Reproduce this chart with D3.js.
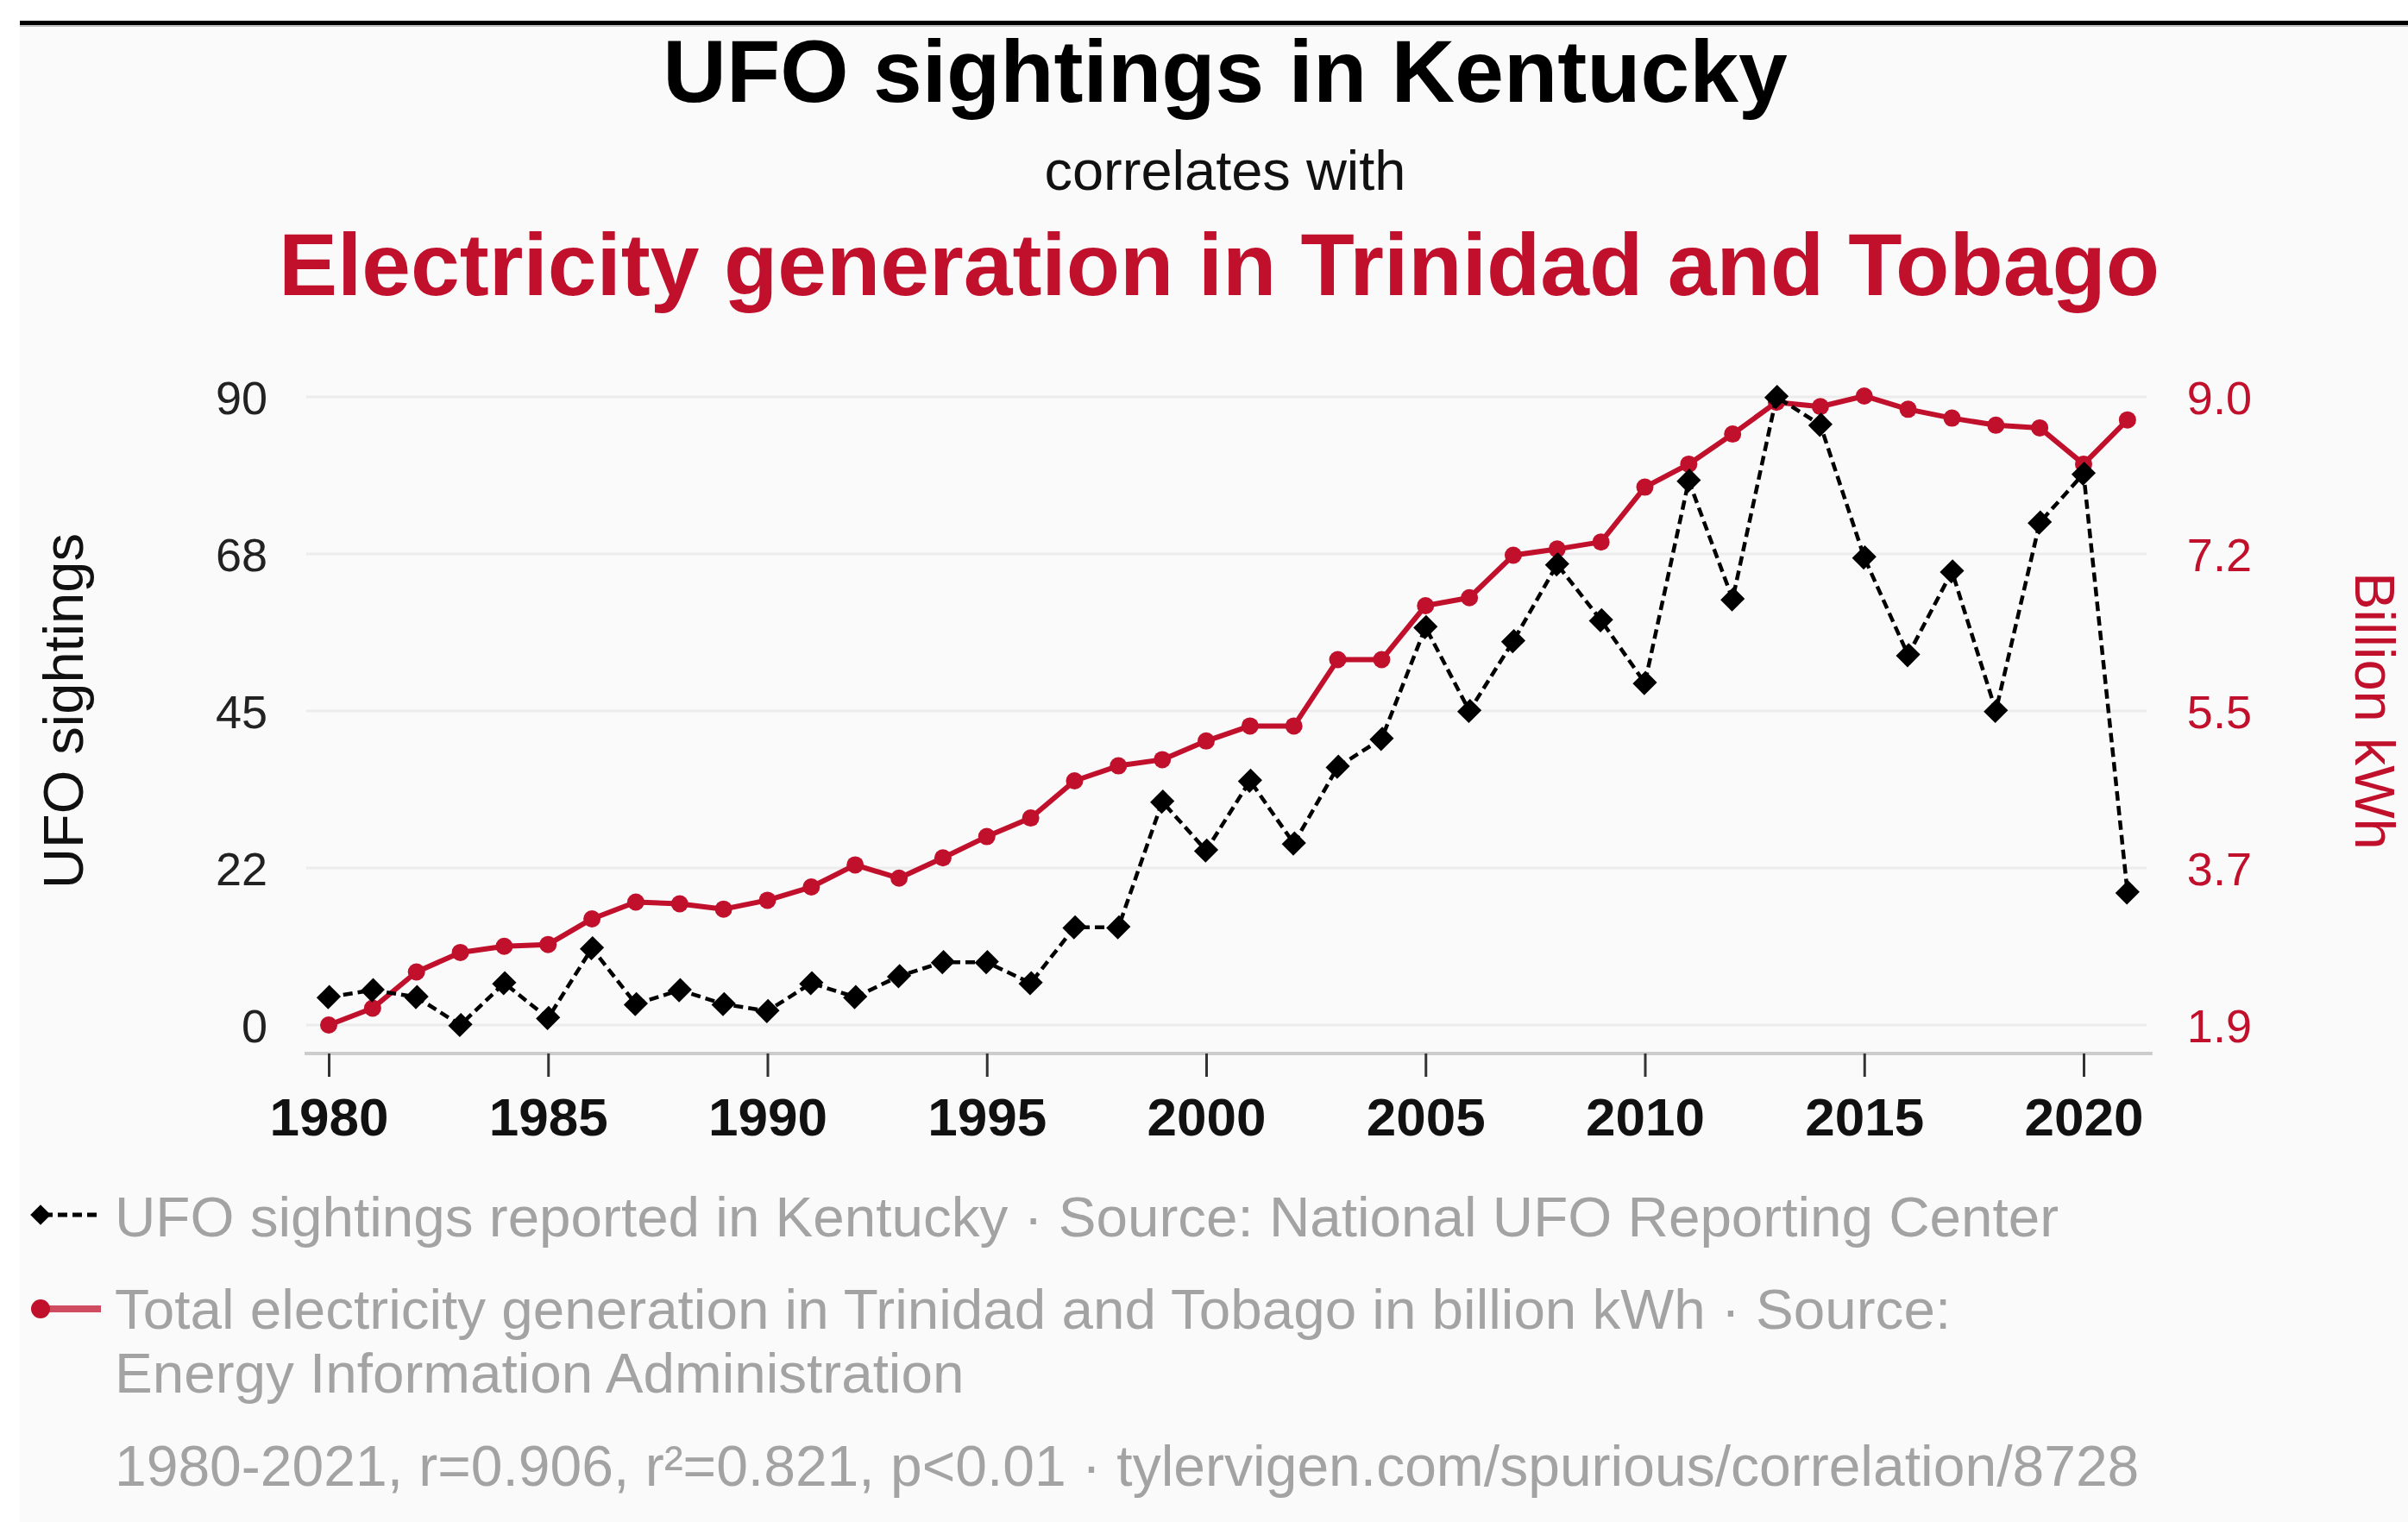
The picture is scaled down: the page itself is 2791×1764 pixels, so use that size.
<!DOCTYPE html>
<html>
<head>
<meta charset="utf-8">
<script src="https://cdn.jsdelivr.net/npm/d3@7"></script>
<style>
  html, body { margin: 0; padding: 0; background: #ffffff; }
  svg { display: block; }
  text { font-family: "Liberation Sans", Arial, Helvetica, sans-serif; }
</style>
</head>
<body>
<svg id="chart" width="2791" height="1764"></svg>
<script>
// ---------------- DATA ----------------
const years = [1980,1981,1982,1983,1984,1985,1986,1987,1988,1989,
               1990,1991,1992,1993,1994,1995,1996,1997,1998,1999,
               2000,2001,2002,2003,2004,2005,2006,2007,2008,2009,
               2010,2011,2012,2013,2014,2015,2016,2017,2018,2019,
               2020,2021];
const ufoSightings = [4,5,4,0,6,1,11,3,5,3,
                      2,6,4,7,9,9,6,14,14,32,
                      25,35,26,37,41,57,45,55,66,58,
                      49,78,61,90,86,67,53,65,45,72,
                      79,19];
const electricity = [1.90,2.09,2.50,2.72,2.79,2.81,3.10,3.29,3.27,3.21,
                     3.31,3.46,3.71,3.56,3.79,4.03,4.24,4.66,4.83,4.90,
                     5.11,5.28,5.28,6.03,6.03,6.64,6.73,7.21,7.28,7.36,
                     7.98,8.24,8.58,8.94,8.89,9.01,8.86,8.76,8.68,8.65,
                     8.24,8.74];
const xTickValues = [1980,1985,1990,1995,2000,2005,2010,2015,2020];
const leftTickValues = [0,22.5,45,67.5,90];
const leftTickLabels = ["0","22","45","68","90"];
const rightTickValues = [1.9,3.675,5.45,7.225,9.0];
const rightTickLabels = ["1.9","3.7","5.5","7.2","9.0"];
const leftDomain = [0, 90];
const rightDomain = [1.9, 9.0];

const titleText = "UFO sightings in Kentucky";
const subText = "correlates with";
const title2Text = "Electricity generation in Trinidad and Tobago";
const leftAxisTitle = "UFO sightings";
const rightAxisTitle = "Billion kWh";
const legend1 = "UFO sightings reported in Kentucky \u00b7 Source: National UFO Reporting Center";
const legend2a = "Total electricity generation in Trinidad and Tobago in billion kWh \u00b7 Source:";
const legend2b = "Energy Information Administration";
const footer = "1980-2021, r=0.906, r\u00b2=0.821, p<0.01 \u00b7 tylervigen.com/spurious/correlation/8728";

// ---------------- STYLE ----------------
const RED = "#c0102c";
const GRAY = "#a3a3a3";
const W = 2791, H = 1764;

const svg = d3.select("#chart");

// panel background + top rule
svg.append("rect").attr("x", 23).attr("y", 24).attr("width", W - 23).attr("height", H - 24).attr("fill", "#fafafa");
svg.append("rect").attr("x", 23).attr("y", 24).attr("width", W - 23).attr("height", 5).attr("fill", "#000");
svg.append("rect").attr("x", 23).attr("y", 29).attr("width", W - 23).attr("height", 2).attr("fill", "#bdbdbd");

// titles
const cx = 1420;
svg.append("text").attr("x", cx).attr("y", 118).attr("text-anchor", "middle")
  .attr("font-size", 102).attr("font-weight", "bold").attr("fill", "#000").text(titleText);
svg.append("text").attr("x", cx).attr("y", 220).attr("text-anchor", "middle")
  .attr("font-size", 65).attr("fill", "#111").text(subText);
svg.append("text").attr("x", 1413).attr("y", 342).attr("text-anchor", "middle")
  .attr("font-size", 102).attr("font-weight", "bold").attr("fill", RED).text(title2Text);

// scales
const x = d3.scaleLinear().domain([1980, 2020]).range([381, 2415]);
const yL = d3.scaleLinear().domain(leftDomain).range([1188, 460]);
const yR = d3.scaleLinear().domain(rightDomain).range([1188, 460]);

const gridX0 = x(1980) - 26, gridX1 = x(2021) + 22;

// gridlines
svg.append("g").selectAll("line").data(leftTickValues).join("line")
  .attr("x1", gridX0).attr("x2", gridX1)
  .attr("y1", d => yL(d)).attr("y2", d => yL(d))
  .attr("stroke", "#ececec").attr("stroke-width", 3);

// left axis labels
const gL = svg.append("g").attr("transform", `translate(${gridX0},0)`)
  .call(d3.axisLeft(yL).tickValues(leftTickValues).tickSize(0).tickPadding(45)
        .tickFormat((d, i) => leftTickLabels[i]));
gL.select(".domain").remove();
gL.selectAll("text").attr("font-size", 54).attr("fill", "#222")
  .attr("font-family", "'Liberation Sans', Arial, Helvetica, sans-serif").attr("dy", "0.36em");

// right axis labels
const gR = svg.append("g").attr("transform", `translate(${gridX1},0)`)
  .call(d3.axisRight(yR).tickValues(rightTickValues).tickSize(0).tickPadding(47)
        .tickFormat((d, i) => rightTickLabels[i]));
gR.select(".domain").remove();
gR.selectAll("text").attr("font-size", 54).attr("fill", RED)
  .attr("font-family", "'Liberation Sans', Arial, Helvetica, sans-serif").attr("dy", "0.36em");

// x axis
const axisY = 1221;
svg.append("line").attr("x1", x(1980) - 28).attr("x2", x(2021) + 29)
  .attr("y1", axisY).attr("y2", axisY).attr("stroke", "#cccccc").attr("stroke-width", 4);
const gX = svg.append("g").attr("transform", `translate(0,${axisY})`)
  .call(d3.axisBottom(x).tickValues(xTickValues).tickSize(27).tickPadding(24).tickFormat(d3.format("d")));
gX.select(".domain").remove();
gX.selectAll(".tick line").attr("stroke", "#333").attr("stroke-width", 3);
gX.selectAll("text").attr("font-size", 62).attr("font-weight", "bold").attr("fill", "#111")
  .attr("font-family", "'Liberation Sans', Arial, Helvetica, sans-serif");

// axis titles
svg.append("text").attr("transform", `translate(96,${(yL(0) + yL(90)) / 2}) rotate(-90)`)
  .attr("text-anchor", "middle").attr("font-size", 65).attr("fill", "#111").text(leftAxisTitle);
svg.append("text").attr("transform", `translate(2730,${(yR(1.9) + yR(9.0)) / 2}) rotate(90)`)
  .attr("text-anchor", "middle").attr("font-size", 65).attr("fill", RED).text(rightAxisTitle);

// series data
const redData = years.map((yr, i) => ({ yr, v: electricity[i] }));
const blkData = years.map((yr, i) => ({ yr, v: ufoSightings[i] }));

// red line
svg.append("path").datum(redData)
  .attr("d", d3.line().x(d => x(d.yr)).y(d => yR(d.v)))
  .attr("fill", "none").attr("stroke", RED).attr("stroke-width", 6).attr("stroke-linejoin", "round");
svg.append("g").selectAll("circle").data(redData).join("circle")
  .attr("cx", d => x(d.yr)).attr("cy", d => yR(d.v)).attr("r", 10).attr("fill", RED);

// black dashed line
svg.append("path").datum(blkData)
  .attr("d", d3.line().x(d => x(d.yr)).y(d => yL(d.v)))
  .attr("fill", "none").attr("stroke", "#000").attr("stroke-width", 4.5)
  .attr("stroke-dasharray", "11,6");
const diamond = d3.symbol().type(d3.symbolSquare).size(360);
svg.append("g").selectAll("path").data(blkData).join("path")
  .attr("transform", d => `translate(${x(d.yr)},${yL(d.v)}) rotate(45) scale(1,1.1)`)
  .attr("d", diamond).attr("fill", "#000");

// legend
const lx = 133;
svg.append("line").attr("x1", 50).attr("x2", 117).attr("y1", 1408).attr("y2", 1408)
  .attr("stroke", "#000").attr("stroke-width", 5).attr("stroke-dasharray", "11,6");
svg.append("path").attr("transform", "translate(47,1408) rotate(45)")
  .attr("d", d3.symbol().type(d3.symbolSquare).size(280)).attr("fill", "#000");
svg.append("text").attr("x", lx).attr("y", 1433).attr("font-size", 65.6).attr("fill", GRAY).text(legend1);

svg.append("line").attr("x1", 47).attr("x2", 117).attr("y1", 1517).attr("y2", 1517)
  .attr("stroke", RED).attr("stroke-opacity", 0.75).attr("stroke-width", 8);
svg.append("circle").attr("cx", 47).attr("cy", 1517).attr("r", 11).attr("fill", RED);
svg.append("text").attr("x", lx).attr("y", 1540).attr("font-size", 65.6).attr("fill", GRAY).text(legend2a);
svg.append("text").attr("x", lx).attr("y", 1614).attr("font-size", 65.6).attr("fill", GRAY).text(legend2b);

svg.append("text").attr("x", lx).attr("y", 1722).attr("font-size", 66).attr("fill", GRAY).text(footer);
</script>
</body>
</html>
